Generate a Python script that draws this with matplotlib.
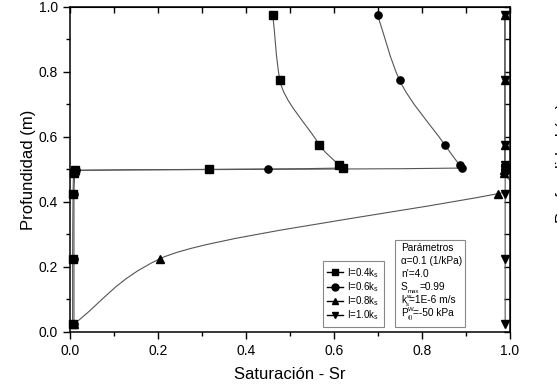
import numpy as np
import matplotlib
matplotlib.use("Agg")
import matplotlib.pyplot as plt
from matplotlib.path import Path
from matplotlib.patches import PathPatch, Rectangle
from matplotlib.lines import Line2D
from matplotlib.ticker import MultipleLocator

plt.rcParams['font.family'] = ['Liberation Sans', 'DejaVu Sans']
plt.rcParams['mathtext.fontset'] = 'custom'
plt.rcParams['mathtext.rm'] = 'Liberation Sans'
plt.rcParams['mathtext.it'] = 'Liberation Sans'

# depth of the nodes (m)
depth = [0.975, 0.775, 0.575, 0.512, 0.504, 0.500, 0.497, 0.490, 0.425, 0.225, 0.025]

# saturation Sr, one list per series
sr_04 = [0.461, 0.477, 0.567, 0.612, 0.621, 0.317, 0.012, 0.008, 0.007, 0.006, 0.006]
sr_06 = [0.699, 0.749, 0.852, 0.886, 0.892, 0.451, 0.013, 0.011, 0.009, 0.009, 0.009]
sr_08 = [0.988, 0.988, 0.988, 0.988, 0.988, 0.988, 0.987, 0.986, 0.972, 0.205, 0.010]
sr_10 = [0.989, 0.989, 0.989, 0.989, 0.989, 0.989, 0.989, 0.989, 0.989, 0.989, 0.989]

labels = [r'I=0.4k$_\mathregular{s}$', r'I=0.6k$_\mathregular{s}$',
          r'I=0.8k$_\mathregular{s}$', r'I=1.0k$_\mathregular{s}$']
markers = ['s', 'o', '^', 'v']

# parameter lines, as (text, kind) pieces; kind: n normal, u super, d sub
params = [[('Parámetros', 'n')],
          [('α=0.1 (1/kPa)', 'n')],
          [("n'=4.0", 'n')],
          [('S', 'n'), ('max', 'd'), ('=0.99', 'n')],
          [('k', 'n'), ('w', 'u'), ('s', 'd'), ('=1E-6 m/s', 'n')],
          [('P', 'n'), ('W', 'u'), ('(i)', 'd'), ('=-50 kPa', 'n')]]


def smooth_path(x, y):
    """smooth curve (x as function of depth) drawn as bezier path"""
    x = np.asarray(x, float)
    y = np.asarray(y, float)
    o = np.argsort(y)
    x, y = x[o], y[o]
    h = np.diff(y)
    d = np.diff(x) / h
    m = np.zeros_like(x)
    m[0], m[-1] = d[0], d[-1]
    for k in range(1, len(x) - 1):
        if d[k - 1] * d[k] <= 0:
            continue
        r = h[k] / h[k - 1]
        if r > 2:
            m[k] = d[k]
        elif r < 0.5:
            m[k] = d[k - 1]
        else:
            w1 = 2 * h[k] + h[k - 1]
            w2 = h[k] + 2 * h[k - 1]
            m[k] = (w1 + w2) / (w1 / d[k - 1] + w2 / d[k])
    verts = [(x[0], y[0])]
    codes = [Path.MOVETO]
    for k in range(len(x) - 1):
        verts += [(x[k] + m[k] * h[k] / 3, y[k] + h[k] / 3),
                  (x[k + 1] - m[k + 1] * h[k] / 3, y[k + 1] - h[k] / 3),
                  (x[k + 1], y[k + 1])]
        codes += [Path.CURVE4] * 3
    return Path(verts, codes)


fig = plt.figure(figsize=(5.57, 3.84), dpi=100)
ax = fig.add_axes([70 / 557, 1 - 331.7 / 384, 440 / 557, 324.7 / 384])

series = [sr_04, sr_06, sr_08, sr_10]
for sr, mk in zip(series, markers):
    ax.add_patch(PathPatch(smooth_path(sr, depth), fill=False,
                           edgecolor='#555555', lw=0.8, zorder=2))
    ax.plot(sr, depth, linestyle='none', marker=mk, ms=5.2,
            color='black', zorder=3, clip_on=False)

ax.set_xlim(0, 1)
ax.set_ylim(0, 1)
ax.xaxis.set_major_locator(MultipleLocator(0.2))
ax.xaxis.set_minor_locator(MultipleLocator(0.1))
ax.yaxis.set_major_locator(MultipleLocator(0.2))
ax.yaxis.set_minor_locator(MultipleLocator(0.1))
ax.tick_params(which='both', direction='out', top=False, right=False,
               labelsize=10, width=1, colors='black')
ax.tick_params(which='major', length=5)
ax.tick_params(which='minor', length=3)

# inward ticks on top and right, like the original
sec_x = ax.secondary_xaxis('top')
sec_x.xaxis.set_major_locator(MultipleLocator(0.1))
sec_x.tick_params(direction='in', length=4, labeltop=False, width=1)
sec_y = ax.secondary_yaxis('right')
sec_y.yaxis.set_major_locator(MultipleLocator(0.1))
sec_y.tick_params(direction='in', length=4, labelright=False, width=1)

for sp in ax.spines.values():
    sp.set_linewidth(1.1)

ax.set_xlabel('Saturación - Sr', fontsize=12, labelpad=7)
ax.set_ylabel('Profundidad (m)', fontsize=12, labelpad=2)

handles = [Line2D([], [], color='black', lw=1, marker=mk, ms=5)
           for mk in markers]
leg = ax.legend(handles, labels, loc='lower left',
                bbox_to_anchor=(0.574, 0.015), borderaxespad=0,
                fontsize=7, handlelength=1.7, handletextpad=0.4,
                labelspacing=0.05, borderpad=0.45, fancybox=False,
                framealpha=1)
leg.get_frame().set_edgecolor('#888888')
leg.get_frame().set_linewidth(0.8)

# parameter box
ax.add_patch(Rectangle((0.739, 0.015), 0.159, 0.267, transform=ax.transAxes,
                       fill=True, facecolor='white', edgecolor='#888888',
                       lw=0.8, zorder=4))
renderer = fig.canvas.get_renderer()
for i, pieces in enumerate(params):
    y = 0.250 - i * 0.0405
    dx = 0.0
    for txt, kind in pieces:
        size, dy = {'n': (7.3, 0.0), 'u': (4.3, 3.6), 'd': (4.3, -2.0)}[kind]
        t = ax.annotate(txt, xy=(0.752, y), xycoords='axes fraction',
                        xytext=(dx, dy), textcoords='offset points',
                        fontsize=size, va='baseline', ha='left', zorder=5)
        w = t.get_window_extent(renderer).width * 72 / fig.dpi
        if kind != 'u':
            dx += w + (0.3 if kind == 'd' else 0)

# clipped label of the neighbouring plot at the right edge
fig.text(564 / 557, 1 - 163 / 384, 'Profundidad (m)', rotation=90,
         fontsize=12, ha='center', va='center')

fig.savefig('out.png', dpi=100)
